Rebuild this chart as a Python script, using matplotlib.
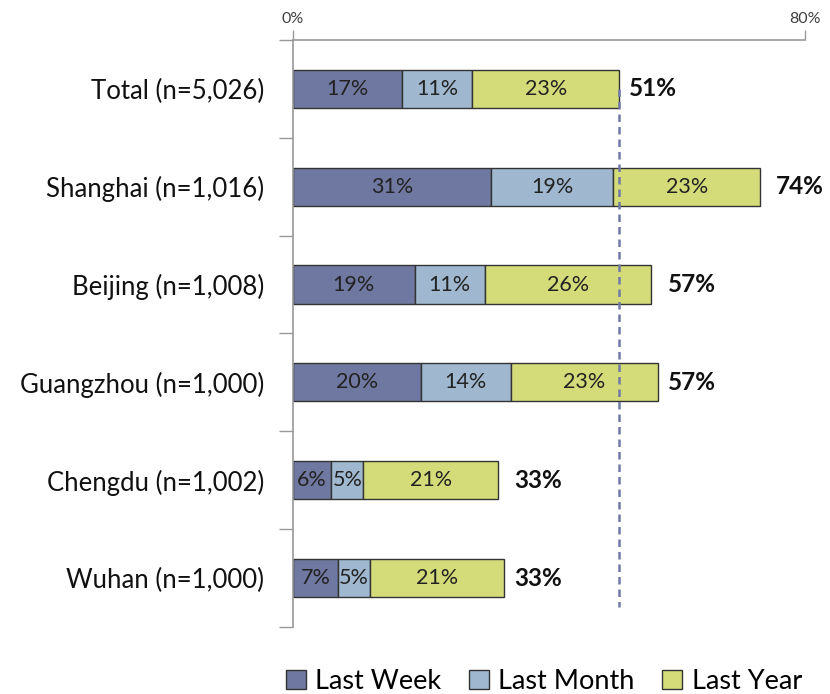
import matplotlib
matplotlib.use("Agg")
import matplotlib.pyplot as plt
import numpy as np

plt.rcParams["font.family"] = ["Lato", "DejaVu Sans"]

# ------------------------------------------------------------------
# Data
# ------------------------------------------------------------------
categories = [
    "Total (n=5,026)",
    "Shanghai (n=1,016)",
    "Beijing (n=1,008)",
    "Guangzhou (n=1,000)",
    "Chengdu (n=1,002)",
    "Wuhan (n=1,000)",
]
last_week = [17, 31, 19, 20, 6, 7]
last_month = [11, 19, 11, 14, 5, 5]
last_year = [23, 23, 26, 23, 21, 21]
totals = [51, 74, 57, 57, 33, 33]

series_names = ["Last Week", "Last Month", "Last Year"]
series_colors = ["#6f78a0", "#9fb8cf", "#d4dc7a"]

# ------------------------------------------------------------------
# Plot
# ------------------------------------------------------------------
fig = plt.figure(figsize=(8.3, 6.94), dpi=100)
ax = fig.add_axes([0.353, 0.0965, 0.617, 0.846])

y = np.arange(len(categories))
left = np.zeros(len(categories))
for name, values, color in zip(
    series_names, [last_week, last_month, last_year], series_colors
):
    bars = ax.barh(
        y,
        values,
        left=left,
        height=0.39,
        color=color,
        edgecolor="#333333",
        linewidth=1.0,
        label=name,
        zorder=2,
    )
    for bar, v in zip(bars, values):
        ax.text(
            bar.get_x() + bar.get_width() / 2,
            bar.get_y() + bar.get_height() / 2,
            f"{v}%",
            ha="center",
            va="center",
            fontsize=15.5,
            color="#222222",
            zorder=4,
        )
    left += np.array(values)

for yi, t in zip(y, totals):
    ax.text(
        t + 1.5,
        yi,
        f"{t}%",
        ha="left",
        va="center",
        fontsize=17.5,
        fontweight="bold",
        color="#111111",
    )

# reference line at the overall total
ax.vlines(
    totals[0],
    0,
    len(categories) - 0.7,
    colors="#7079a8",
    linestyles=(0, (3, 2)),
    linewidth=1.8,
    zorder=3,
)

ax.set_xlim(0, 80)
ax.set_ylim(len(categories) - 0.5, -0.5)

ax.xaxis.tick_top()
ax.set_xticks([0, 80])
ax.set_xticklabels(["0%", "80%"])
ax.tick_params(
    axis="x",
    colors="#999999",
    labelcolor="#404040",
    labelsize=11.5,
    length=7,
    width=1,
    pad=3,
)

ax.set_yticks(y)
ax.set_yticklabels(categories, fontsize=18.5, color="#111111")
ax.set_yticks(np.arange(-0.5, len(categories)), minor=True)
ax.tick_params(axis="y", which="major", length=0, pad=21)
ax.tick_params(axis="y", which="minor", length=10, width=1, color="#999999")

for side in ["right", "bottom"]:
    ax.spines[side].set_visible(False)
for side in ["left", "top"]:
    ax.spines[side].set_color("#999999")
    ax.spines[side].set_linewidth(1.2)

fig.legend(
    loc="lower center",
    bbox_to_anchor=(0.655, -0.035),
    ncol=3,
    frameon=False,
    fontsize=19.5,
    handlelength=0.75,
    handleheight=0.75,
    handletextpad=0.35,
    columnspacing=1.0,
)

fig.savefig("out.png", dpi=100)
plt.close(fig)
